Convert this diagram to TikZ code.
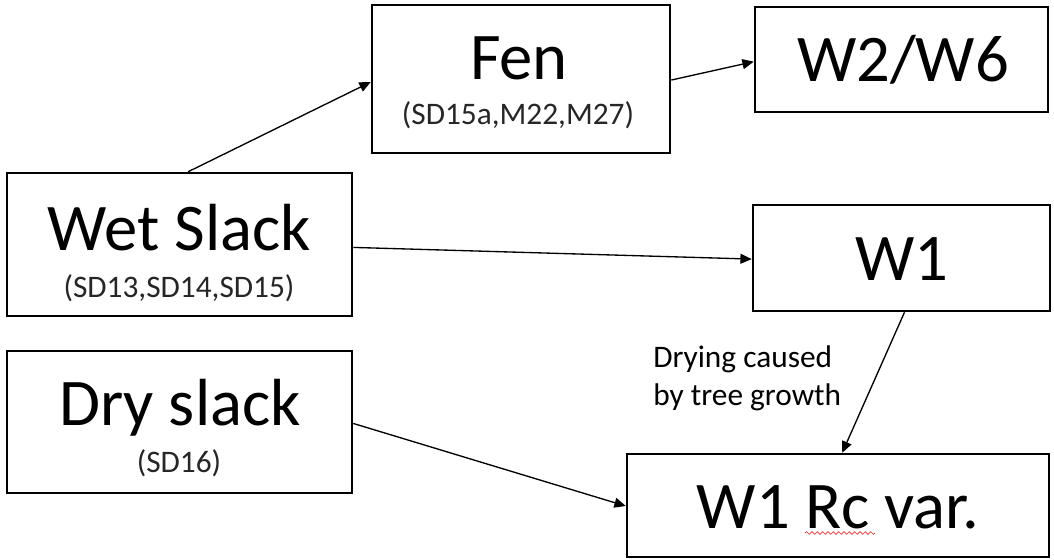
\documentclass[tikz,border=0pt]{standalone}
\usepackage{fontspec}
\setmainfont{Carlito}
\usetikzlibrary{arrows.meta,calc,decorations.pathmorphing}
\begin{document}
\begin{tikzpicture}[x=0.75pt,y=-0.75pt,
  box/.style={draw=black,line width=1.9pt,rectangle,inner sep=0pt,fill=white},
  big/.style={anchor=base,inner sep=0pt,font=\fontsize{50}{60}\selectfont},
  small/.style={anchor=base,inner sep=0pt,text=black!85,font=\fontsize{23.5}{28.7}\selectfont},
  conn/.style={line width=1pt,-{Triangle[length=8.5pt,width=7.5pt]}}]
\useasboundingbox (0,0) rectangle (1054,560);
% boxes
\node[box,minimum width=298*0.75pt,minimum height=148*0.75pt] (fen) at (521,79) {};
\node[box,minimum width=293*0.75pt,minimum height=105*0.75pt] (w2) at (901.5,59.5) {};
\node[box,minimum width=345*0.75pt,minimum height=143*0.75pt] (wet) at (179.5,244.5) {};
\node[box,minimum width=297*0.75pt,minimum height=106*0.75pt] (w1) at (901.5,258) {};
\node[box,minimum width=345*0.75pt,minimum height=142*0.75pt] (dry) at (179.5,422) {};
\node[box,minimum width=422*0.75pt,minimum height=103*0.75pt] (rc) at (838,505.5) {};
% texts
\node[big] (fent) at (519,80) {Fen};
\node[small] (fens) at (518,125) {(SD15a,M22,M27)};
\node[big] (w2t) at (903,82) {W2/W6};
\node[big] (wett) at (179,250) {Wet Slack};
\node[small] (wets) at (179,297) {(SD13,SD14,SD15)};
\node[big] (w1t) at (902,280) {W1};
\node[big] (dryt) at (180,425) {Dry slack};
\node[small] (drys) at (179,472) {(SD16)};
\node[big] (rct) at (838,528) {W1 Rc var.};
\node[small,text=black,anchor=base west] (lab) at (653,367) {Drying caused};
\node[small,text=black,anchor=base west] (lab2) at (653,405) {by tree growth};
% spell-check squiggle
\draw[red!85!white,line width=0.5pt,decorate,decoration={snake,segment length=4,amplitude=1}] (805,533) -- (875,533);
% connectors
\draw[conn] ($(wet.north west)!0.525!(wet.north east)$) -- ($(fen.north west)!0.52!(fen.south west)$);
\draw[conn] ($(fen.north east)!0.507!(fen.south east)$) -- ($(w2.north west)!0.52!(w2.south west)$);
\draw[conn] ($(wet.north east)!0.52!(wet.south east)$) -- ($(w1.north west)!0.51!(w1.south west)$);
\draw[conn] ($(w1.south west)!0.51!(w1.south east)$) -- ($(rc.north west)!0.51!(rc.north east)$);
\draw[conn] ($(dry.north east)!0.51!(dry.south east)$) -- ($(rc.north west)!0.505!(rc.south west)$);
\end{tikzpicture}
\end{document}
